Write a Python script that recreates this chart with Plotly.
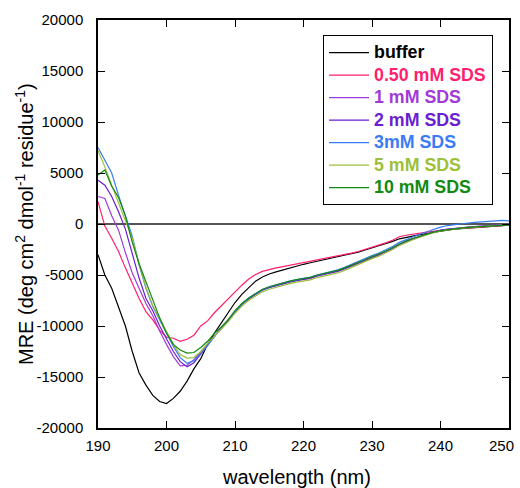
import plotly.graph_objects as go

wavelength = list(range(190, 251))

buffer = [-3000, -5000, -6300, -8200, -10000, -12500, -14600, -15800, -16800, -17400,
          -17600, -17100, -16400, -15400, -14200, -13200, -11800, -10700, -9700, -8600,
          -7700, -6900, -6200, -5600, -5200, -4900, -4700, -4500, -4300, -4100,
          -3950, -3800, -3650, -3500, -3380, -3250, -3100, -2950, -2750, -2550,
          -2350, -2150, -1950, -1700, -1450, -1300, -1150, -1050, -930, -800,
          -700, -600, -500, -450, -400, -350, -300, -250, -180, -150, -120]

sds_050 = [2200, -200, -1400, -2700, -4300, -5800, -7300, -8600, -9400, -10400,
           -11100, -11200, -11500, -11300, -10900, -10000, -9500, -8700, -8000, -7300,
           -6600, -6000, -5400, -4950, -4650, -4450, -4300, -4180, -4050, -3920,
           -3800, -3620, -3500, -3400, -3300, -3150, -3000, -2850, -2700, -2500,
           -2300, -2100, -1850, -1600, -1250, -1100, -980, -880, -800, -720,
           -620, -550, -470, -420, -370, -320, -270, -220, -170, -140, -110]

sds_1 = [2700, 2500, 800, -600, -2800, -4800, -6300, -7800, -9000, -10500,
         -11800, -13000, -13900, -13850, -13300, -12600, -11800, -11000, -10200, -9400,
         -8550, -7850, -7300, -6850, -6450, -6200, -6000, -5800, -5650, -5500,
         -5400, -5300, -5100, -4950, -4800, -4600, -4350, -4100, -3850, -3600,
         -3300, -3050, -2750, -2450, -2050, -1700, -1450, -1200, -980, -780,
         -600, -500, -420, -370, -320, -260, -200, -150, -100, -80, -60]

sds_2 = [4300, 3800, 2700, 1200, -500, -3000, -5300, -7300, -8500, -10000,
         -11200, -12500, -13500, -14000, -13600, -12800, -11900, -11000, -10200, -9500,
         -8600, -7900, -7350, -6900, -6500, -6250, -6050, -5850, -5700, -5550,
         -5450, -5330, -5100, -4950, -4800, -4650, -4400, -4100, -3850, -3580,
         -3300, -3050, -2750, -2400, -2000, -1700, -1450, -1220, -1000, -800,
         -620, -520, -430, -370, -310, -250, -200, -150, -90, -60, -40]

sds_3 = [7500, 6300, 5000, 2800, 800, -1200, -4000, -6300, -8100, -9400,
         -10800, -12000, -13100, -13650, -13400, -12700, -11900, -11050, -10200, -9450,
         -8550, -7850, -7250, -6850, -6450, -6150, -5950, -5800, -5600, -5450,
         -5350, -5200, -5000, -4850, -4700, -4500, -4250, -3950, -3700, -3400,
         -3100, -2850, -2550, -2200, -1800, -1500, -1250, -1000, -750, -500,
         -300, -150, -50, 50, 100, 150, 200, 250, 300, 350, 300]

sds_5 = [7200, 5600, 3800, 2100, 400, -1400, -3900, -6200, -8000, -9300,
         -10600, -11800, -12800, -13150, -13100, -12500, -11700, -11000, -10300, -9600,
         -8750, -8050, -7500, -7050, -6650, -6400, -6200, -6000, -5850, -5700,
         -5600, -5480, -5250, -5100, -4950, -4800, -4550, -4250, -4000, -3700,
         -3400, -3150, -2850, -2500, -2100, -1800, -1550, -1300, -1050, -850,
         -680, -570, -480, -410, -350, -290, -240, -180, -130, -100, -80]

sds_10 = [4800, 5300, 3700, 2600, 800, -1800, -3900, -5700, -7500, -9200,
          -10700, -11800, -12350, -12650, -12600, -12100, -11500, -10700, -10100, -9400,
          -8500, -7800, -7250, -6800, -6400, -6150, -5950, -5750, -5600, -5450,
          -5350, -5230, -5000, -4850, -4700, -4550, -4300, -4000, -3750, -3480,
          -3200, -2950, -2650, -2300, -1950, -1650, -1400, -1180, -980, -800,
          -640, -540, -460, -400, -340, -290, -250, -200, -150, -130, -120]

names = ["buffer", "0.50 mM SDS", "1 mM SDS", "2 mM SDS", "3mM SDS", "5 mM SDS", "10 mM SDS"]
series = [buffer, sds_050, sds_1, sds_2, sds_3, sds_5, sds_10]
colors = ["#000000", "#ff1f6f", "#a23ad8", "#6a1ed2", "#3a7cf5", "#9dbf3a", "#128a12"]

y_ticks = [-20000, -15000, -10000, -5000, 0, 5000, 10000, 15000, 20000]
x_ticks = [190, 200, 210, 220, 230, 240, 250]
x_labels = ["190", "200", "210", "220", "230", "240", ""]
last_x_label = "250"

fig = go.Figure()
for name, vals, col in zip(names, series, colors):
    fig.add_trace(go.Scatter(
        x=wavelength, y=vals, mode="lines",
        line=dict(color=col, width=1.2),
        name='<b><span style="color:%s;font-size:17.8px">%s</span></b>' % (col, name),
    ))

font_family = "Liberation Sans, Arial, sans-serif"

fig.update_layout(
    width=520, height=488,
    margin=dict(l=98, r=11, t=20, b=60, autoexpand=False),
    paper_bgcolor="white", plot_bgcolor="white",
    font=dict(family=font_family, color="black", size=15),
    showlegend=True,
    legend=dict(
        x=0.547, y=0.963, xanchor="left", yanchor="top",
        bordercolor="black", borderwidth=1.2, bgcolor="white",
        font=dict(size=15, family=font_family),
        tracegroupgap=0, itemwidth=40,
    ),
    xaxis=dict(
        range=[190, 250], tickvals=x_ticks, ticktext=x_labels,
        ticks="inside", ticklen=7, tickwidth=1, tickcolor="black",
        showline=True, linecolor="black", linewidth=1.5, mirror="ticks",
        showgrid=False, zeroline=False, automargin=False,
        ticklabelstandoff=3, ticklabeloverflow="allow",
    ),
    yaxis=dict(
        range=[-20000, 20000], tickvals=y_ticks, ticktext=[str(v) for v in y_ticks],
        ticks="inside", ticklen=7, tickwidth=1, tickcolor="black",
        showline=True, linecolor="black", linewidth=1.5, mirror="ticks",
        showgrid=False, zeroline=True, zerolinecolor="#555555", zerolinewidth=1.5,
        automargin=False, ticklabelstandoff=10, ticklabeloverflow="allow",
    ),
    annotations=[
        dict(text=last_x_label, xref="x", yref="paper", x=x_ticks[-1], y=0,
             xanchor="right", yanchor="middle", xshift=7, yshift=-17,
             showarrow=False, font=dict(size=15)),
        dict(text="wavelength (nm)", xref="paper", yref="paper", x=0.5, y=0,
             xanchor="center", yanchor="middle", xshift=-7, yshift=-49,
             showarrow=False, font=dict(size=20)),
        dict(text="MRE (deg cm<sup>2</sup> dmol<sup>-1</sup> residue<sup>-1</sup>)",
             xref="paper", yref="paper", x=0, y=0.5, xanchor="center", yanchor="middle",
             xshift=-74, textangle=-90, showarrow=False, font=dict(size=20)),
    ],
)

fig.write_html("out.html")
